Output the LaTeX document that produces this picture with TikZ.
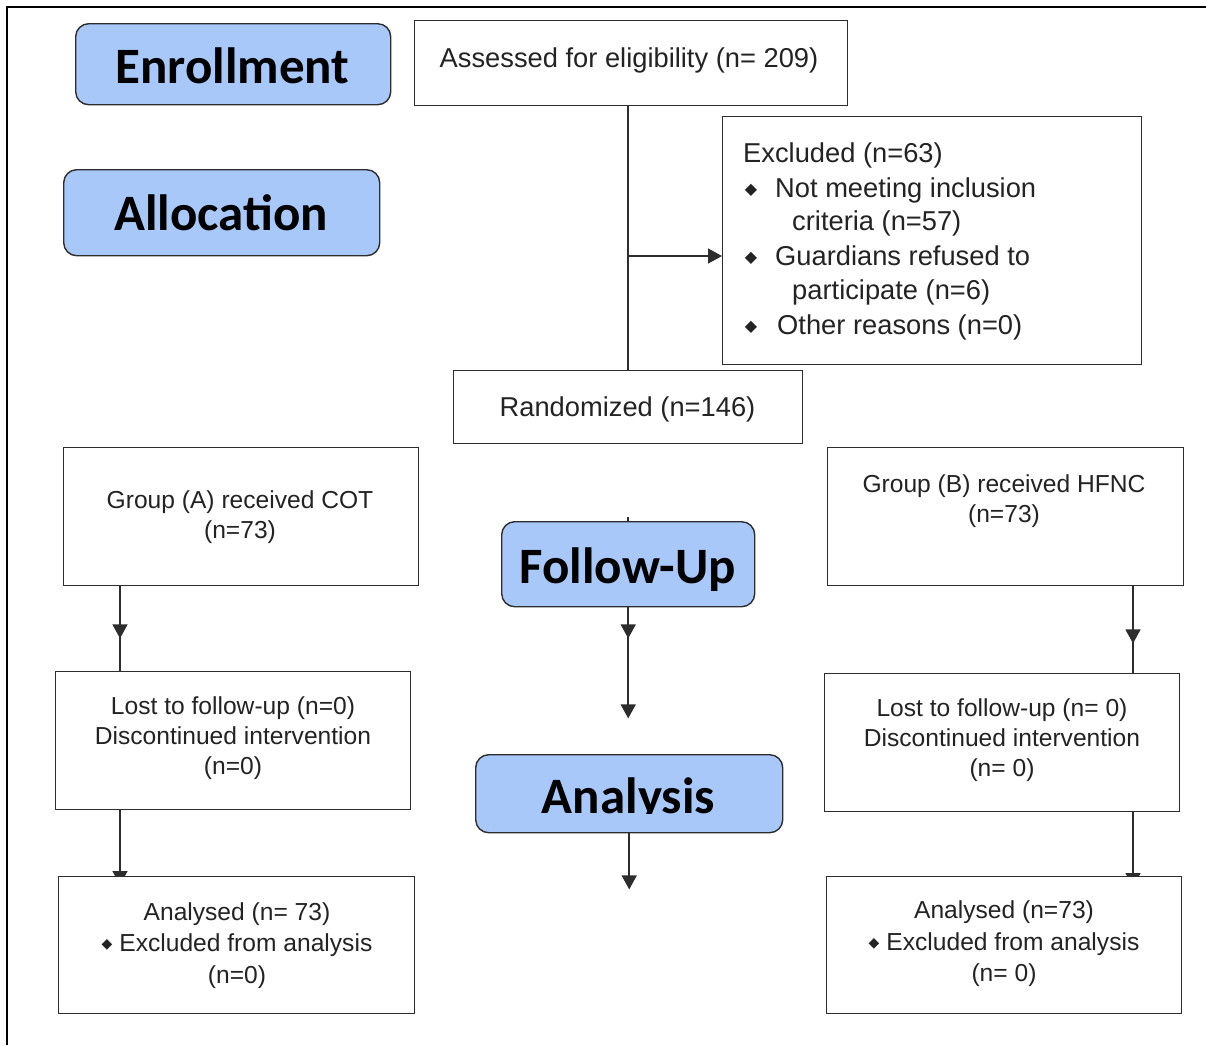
\documentclass[tikz,border=0pt]{standalone}
\usepackage{fontspec}
\setmainfont{Liberation Sans}
\newfontfamily\hdrfont{Carlito}
\newfontfamily\symfont{DejaVu Sans}
\usetikzlibrary{arrows.meta,decorations.markings,backgrounds}
\definecolor{hdrblue}{RGB}{168,200,250}
\definecolor{edgegray}{RGB}{45,45,45}
\definecolor{txtgray}{RGB}{35,35,35}
\newcommand{\bulbig}{{\symfont\fontsize{16}{16}\selectfont ◆}}
\newcommand{\bulsm}{\raisebox{3pt}{\symfont\fontsize{14}{14}\selectfont ◆}}
\begin{document}
\begin{tikzpicture}[x=1pt,y=-1pt,
  box/.style={draw=edgegray,line width=1.4pt,fill=white,inner sep=0pt,anchor=north west},
  hdrbox/.style={draw=edgegray,line width=1.4pt,fill=hdrblue,rounded corners=13pt,inner sep=0pt,anchor=north west},
  hdrtxt/.style={inner sep=0pt,anchor=base,font=\hdrfont\bfseries\fontsize{51}{51}\selectfont,text=black},
  bigtxt/.style={inner sep=0pt,font=\fontsize{27.3}{34}\selectfont,text=txtgray,text height=21pt,text depth=3pt},
  smtxt/.style={inner sep=0pt,align=center,font=\fontsize{24.6}{30}\selectfont,text=txtgray},
  antxt/.style={inner sep=0pt,align=center,font=\fontsize{24.6}{31.5}\selectfont,text=txtgray},
  bultxt/.style={inner sep=0pt,text=txtgray},
  conn/.style={draw=edgegray,line width=1.5pt},
  tipend/.style={-{Triangle[length=14pt,width=15pt]}},
  midtip/.style={postaction={decorate},decoration={markings,mark=at position #1 with {\arrow{Triangle[length=14pt,width=15pt]}}}}
]
\useasboundingbox (0,0) rectangle (1206,1045);
% frame
\draw[line width=2pt,black] (7,1045) -- (7,7) -- (1206,7);

% header boxes
\node[hdrbox,minimum width=315pt,minimum height=81pt] (enr) at (75,23) {};
\node[hdrtxt] (enrT) at (232.5,83) {Enrollment};
\node[hdrbox,minimum width=316pt,minimum height=86pt] (alloc) at (63,169) {};
\node[hdrtxt] (allocT) at (221,230) {Allocation};
\node[hdrbox,minimum width=253pt,minimum height=85pt] (fu) at (501,521) {};
\node[hdrtxt] (fuT) at (627.5,583) {Follow-Up};
\node[hdrbox,minimum width=307pt,minimum height=78pt] (anal) at (475,754) {};
\begin{scope}
\clip (475,754) rectangle (782,813);
\node[hdrtxt] (analT) at (628.5,813) {Analysis};
\end{scope}

% enrollment
\node[box,minimum width=433pt,minimum height=85pt] (assess) at (414,20) {};
\node[bigtxt] (assessT) at (629,58) {Assessed for eligibility (n= 209)};

\node[box,minimum width=419pt,minimum height=248pt] (excl) at (722,116) {};
\node[bigtxt,anchor=west] (exT0) at (743,153) {Excluded (n=63)};
\node[bultxt] (b1) at (751,190) {\bulbig};
\node[bigtxt,anchor=west] (exT1) at (775,188) {Not meeting inclusion};
\node[bigtxt,anchor=west] (exT2) at (792,221) {criteria (n=57)};
\node[bultxt] (b2) at (751,258) {\bulbig};
\node[bigtxt,anchor=west] (exT3) at (775,256) {Guardians refused to};
\node[bigtxt,anchor=west] (exT4) at (792,290) {participate (n=6)};
\node[bultxt] (b3) at (751,327) {\bulbig};
\node[bigtxt,anchor=west] (exT5) at (777,325) {Other reasons (n=0)};

\node[box,minimum width=349pt,minimum height=73pt] (rand) at (453,370) {};
\node[bigtxt] (randT) at (627.5,407) {Randomized (n=146)};

% groups
\node[box,minimum width=355pt,minimum height=138pt] (grpA) at (63,447) {};
\node[smtxt] (grpAT) at (240,517) {Group (A) received COT\\(n=73)};
\node[box,minimum width=356pt,minimum height=138pt] (grpB) at (827,447) {};
\node[smtxt] (grpBT) at (1004,501) {Group (B) received HFNC\\(n=73)};

\node[box,minimum width=355pt,minimum height=138pt] (lostA) at (55,671) {};
\node[smtxt] (lostAT) at (233,738) {Lost to follow-up (n=0)\\Discontinued intervention\\(n=0)};
\node[box,minimum width=355pt,minimum height=138pt] (lostB) at (824,673) {};
\node[smtxt] (lostBT) at (1002,740) {Lost to follow-up (n= 0)\\Discontinued intervention\\(n= 0)};

\node[box,minimum width=356pt,minimum height=137pt] (anA) at (58,876) {};
\node[antxt] (anAT) at (237,945.5) {Analysed (n= 73)\\\bulsm\hspace{7pt}Excluded from analysis\\(n=0)};
\node[box,minimum width=355pt,minimum height=137pt] (anB) at (826,876) {};
\node[antxt] (anBT) at (1004,944) {Analysed (n=73)\\\bulsm\hspace{7pt}Excluded from analysis\\(n= 0)};

\coordinate (xa) at (120,0);
\coordinate (xb) at (1133,0);
\coordinate (yex) at (0,256);

\begin{scope}[on background layer]
\draw[conn] (rand.north |- assess.south) -- (rand.north);
\draw[conn,tipend] (rand.north |- yex) -- (excl.west |- yex);
\draw[conn,midtip=52pt] (xa |- grpA.south) -- (xa |- lostA.north);
\draw[conn,tipend,shorten >=-9pt] (xa |- lostA.south) -- (xa |- anA.north);
\draw[conn,midtip=57pt] (xb |- grpB.south) -- (xb |- lostB.north);
\draw[conn,tipend,shorten >=-11pt] (xb |- lostB.south) -- (xb |- anB.north);
\draw[conn] (fu.north) -- ++(0,-4);
\draw[conn,tipend,midtip=31pt] (fu.south) -- ++(0,111) coordinate (fuEnd);
\draw[conn,tipend] (anal.south) -- ++(0,56) coordinate (anEnd);
\end{scope}
\end{tikzpicture}
\end{document}
